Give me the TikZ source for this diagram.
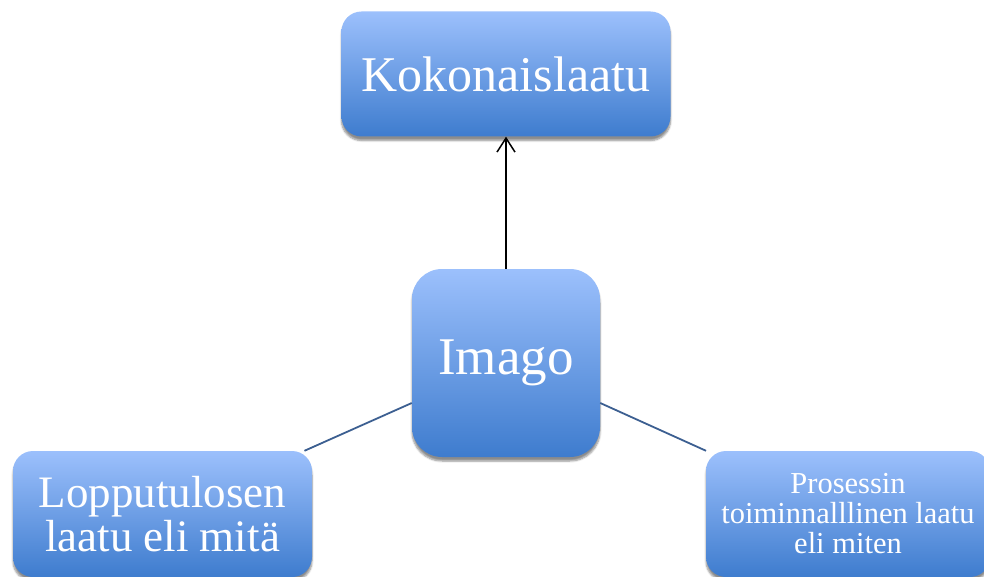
\documentclass[tikz,border=0pt]{standalone}
\usepackage{fontspec}
\setmainfont{Liberation Serif}
\usetikzlibrary{arrows.meta,shadows.blur}
\definecolor{boxtop}{RGB}{156,192,252}
\definecolor{boxbot}{RGB}{62,124,206}
\definecolor{linkblue}{RGB}{60,95,145}
\tikzset{
  qbox/.style={rectangle, rounded corners=20pt, inner sep=0pt, align=center,
    top color=boxtop, bottom color=boxbot, text=white,
    blur shadow={shadow xshift=0pt, shadow yshift=-4pt, shadow opacity=45, shadow blur steps=6}},
  link/.style={draw=linkblue, line width=1.8pt},
  up/.style={draw=black, line width=1.5pt, -{Straight Barb[length=14pt,width=18pt,line width=1.5pt]}}
}
\begin{document}
\begin{tikzpicture}[x=1pt,y=-1pt]
  \useasboundingbox (0,0) rectangle (984,577);
  \node[qbox, minimum width=329pt, minimum height=125pt,
        font=\fontsize{50}{54}\selectfont] (koko) at (506,74) {Kokonaislaatu};
  \node[qbox, rounded corners=30pt, minimum width=188pt, minimum height=188pt,
        font=\fontsize{53}{56}\selectfont] (imago) at (506,363) {Imago};
  \node[qbox, minimum width=299pt, minimum height=126pt,
        font=\fontsize{45}{44}\selectfont] (lop) at (162.5,514) {Lopputulosen\\laatu eli mitä};
  \node[qbox, minimum width=284pt, minimum height=126pt,
        font=\fontsize{30.5}{30}\selectfont] (pro) at (848,514) {Prosessin\\toiminnalllinen laatu\\eli miten};
  \draw[up] (imago.north) -- (koko.south);
  \draw[link] (imago.203.6) -- (lop.24);
  \draw[link] (imago.-23.6) -- (pro.156);
\end{tikzpicture}
\end{document}
